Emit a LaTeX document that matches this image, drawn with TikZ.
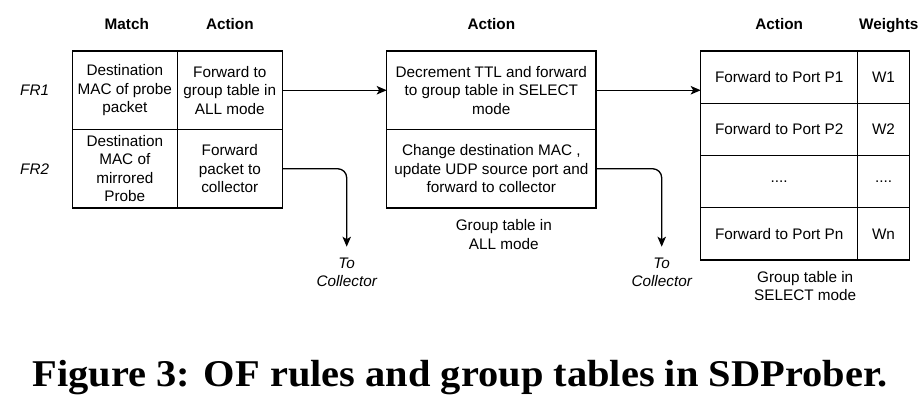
\documentclass[tikz,border=0pt]{standalone}
\usepackage{fontspec}
\setmainfont{Liberation Sans}
\newfontfamily\figfont{Liberation Serif}
\usetikzlibrary{arrows.meta,positioning}
\tikzset{
    %Define standard arrow tip
    >={Stealth[length=10pt,width=8.5pt,inset=2.5pt]},
    %Define style for table cells
    cell/.style={
           rectangle,
           draw=black, line width=1.3pt,
           outer sep=0pt,
           inner sep=2pt,
           font=\fontsize{15.3}{18.5}\selectfont,
           align=center},
    rulecell/.style={cell, minimum width=105pt, minimum height=78.5pt},
    allcell/.style={cell, minimum width=209.3pt, minimum height=78.5pt},
    selcell/.style={cell, minimum width=157pt, minimum height=52.25pt},
    wcell/.style={cell, minimum width=51.6pt, minimum height=52.25pt},
    %Define style for texts
    hdr/.style={
           inner sep=0pt,
           text height=11pt,
           text depth=0pt,
           font=\bfseries\fontsize{15.3}{18.5}\selectfont},
    rowlbl/.style={
           inner sep=0pt,
           align=center,
           font=\itshape\fontsize{15.3}{18.5}\selectfont},
    tbllbl/.style={
           inner sep=0pt,
           align=center,
           font=\fontsize{15.3}{18.5}\selectfont},
    % Define arrow style
    pil/.style={
           ->,
           line width=1.3pt,
           rounded corners=9pt}
}
\begin{document}
\begin{tikzpicture}[x=1pt,y=-1pt]
\useasboundingbox (0,0) rectangle (922,401);
% flow rules
\node[rulecell, anchor=north west] (m1) at (72.3,51) {Destination\\MAC of probe\\packet};
\node[rulecell, right=0pt of m1] (a1) {Forward to\\group table in\\ALL mode};
\node[rulecell, below=0pt of m1] (m2) {Destination\\MAC of\\mirrored\\Probe};
\node[rulecell, below=0pt of a1] (a2) {Forward\\packet to\\collector};
\node[hdr, above=21.5pt of m1, xshift=2pt] (hm) {Match};
\node[hdr, above=21.5pt of a1] (ha1) {Action};
\node[rowlbl, left=23pt of m1] (fr1) {FR1};
\node[rowlbl, left=23pt of m2] (fr2) {FR2};
% group table in ALL mode
\node[allcell, anchor=north west] (g1) at (386.7,51) {Decrement TTL and forward\\to group table in SELECT\\mode};
\node[allcell, below=0pt of g1] (g2) {Change destination MAC ,\\update UDP source port and\\forward to collector};
\node[hdr, above=21.5pt of g1] (ha2) {Action};
\node[tbllbl, below=11.3pt of g2, xshift=12.5pt] (lall) {Group table in\\ALL mode};
% group table in SELECT mode
\node[selcell, anchor=north west] (s1) at (700.7,51) {Forward to Port P1};
\node[wcell, right=0pt of s1] (w1) {W1};
\node[selcell, below=0pt of s1] (s2) {Forward to Port P2};
\node[wcell, right=0pt of s2] (w2) {W2};
\node[selcell, below=0pt of s2] (s3) {....};
\node[wcell, right=0pt of s3] (w3) {....};
\node[selcell, below=0pt of s3] (s4) {Forward to Port Pn};
\node[wcell, right=0pt of s4] (w4) {Wn};
\node[hdr, above=21.5pt of s1] (ha3) {Action};
\node[hdr, above=21.5pt of w1, xshift=5.3pt] (hw) {Weights};
\node[tbllbl, below=11pt of s4, xshift=26pt] (lsel) {Group table in\\SELECT mode};
% collector ends
\coordinate (c1) at (346.7,246.7);
\coordinate (c2) at (661.7,246.7);
\node[rowlbl, below=10.8pt of c1] (tc1) {To\\Collector};
\node[rowlbl, below=10.8pt of c2] (tc2) {To\\Collector};
% arrows
\draw[pil] (a1.east) -- (g1.west);
\draw[pil] (g1.east) -- (g1.east -| s1.west);
\draw[pil] (a2.east) -| (c1);
\draw[pil] (g2.east) -| (c2);
% caption
\node[anchor=base, font=\figfont\bfseries\fontsize{37.8}{42}\selectfont] (fig) at (460,386.7) {\scalebox{1.07}[1]{Figure 3: OF rules and group tables in SDProber.}};
\end{tikzpicture}
\end{document}
